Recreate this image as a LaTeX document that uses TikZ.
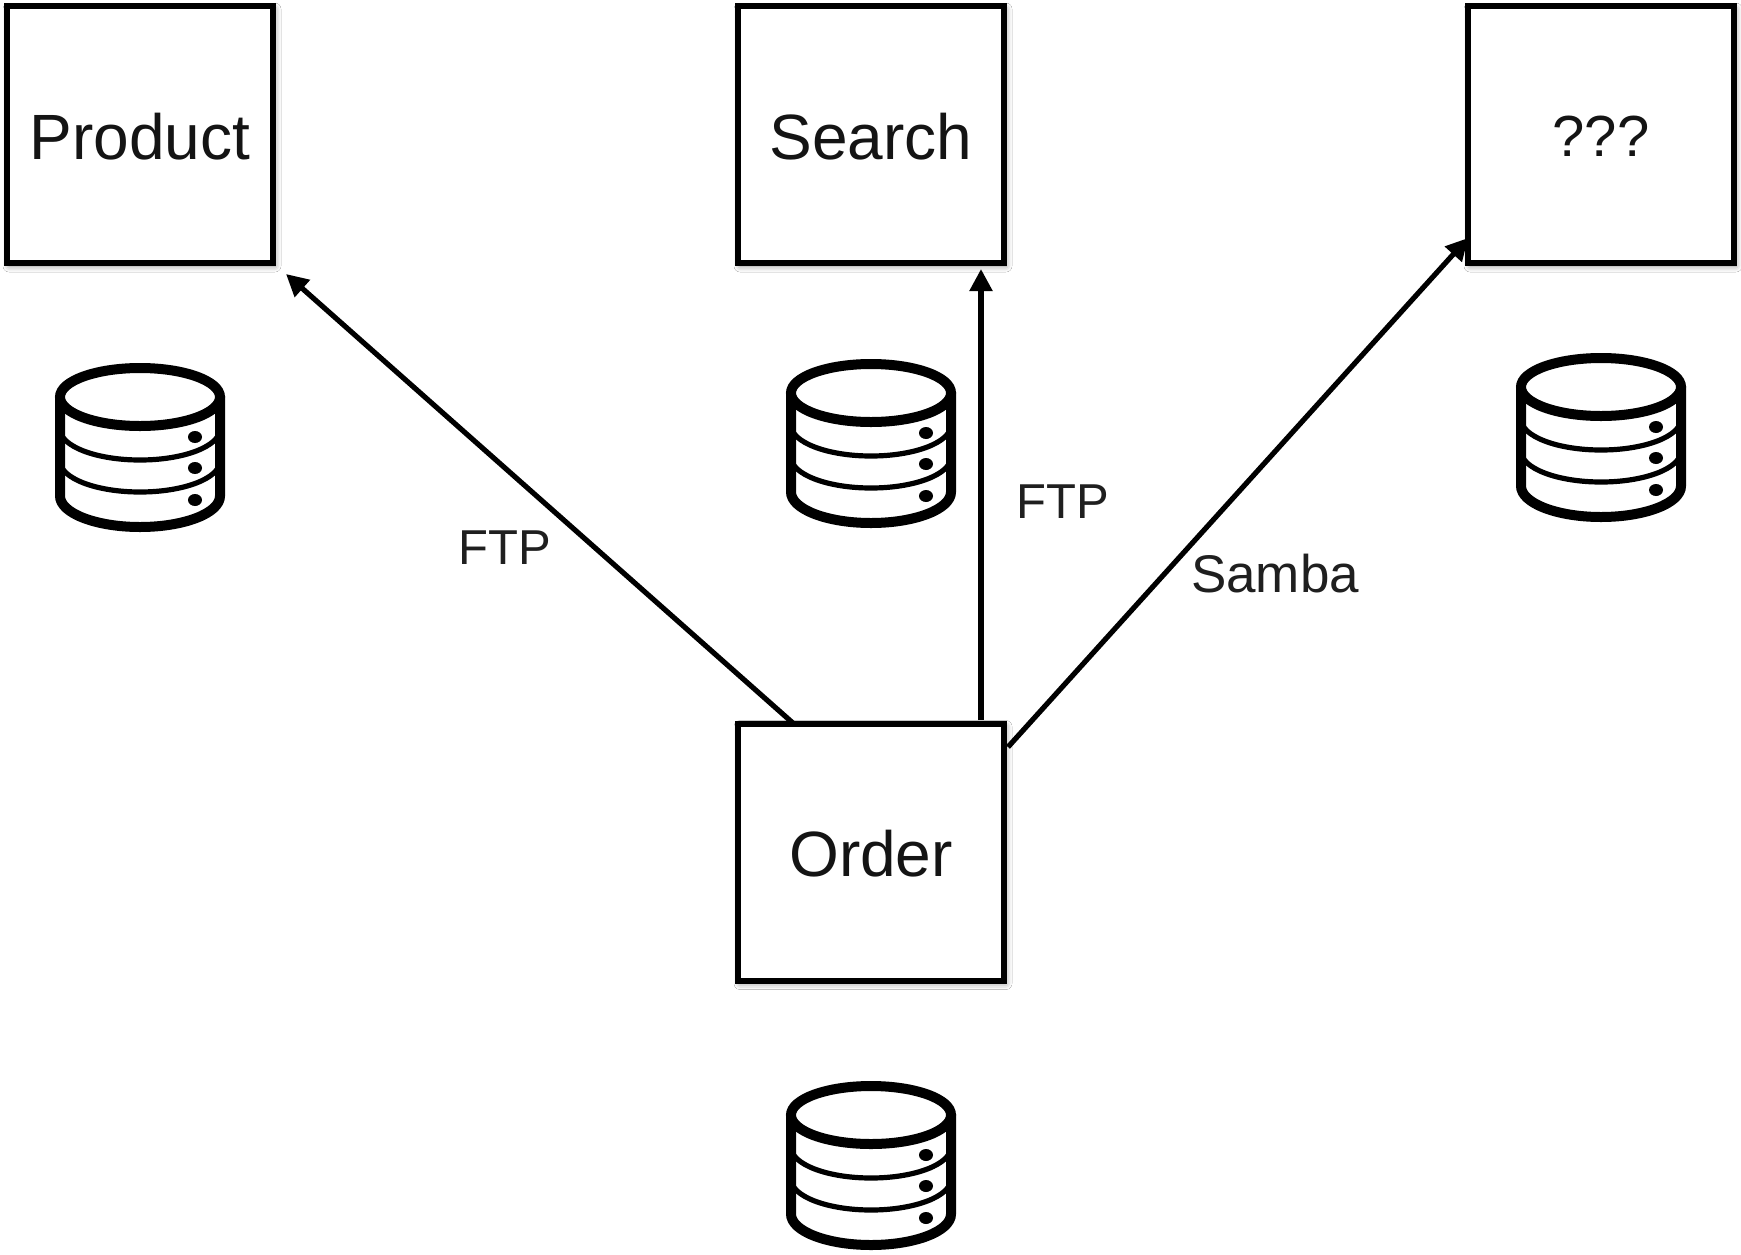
\documentclass[tikz,border=0pt]{standalone}
\usepackage{fontspec}
\setmainfont{Liberation Sans}
\usetikzlibrary{arrows.meta,shadows.blur}
\newcommand{\boxtext}[1]{\raisebox{-1pt}[\height][\depth]{#1}}
\tikzset{
  x=0.5pt,y=-0.5pt,
  svcbox/.style={draw=black,line width=3pt,fill=white,minimum width=133pt,minimum height=128.5pt,inner sep=0pt,
    blur shadow={shadow xshift=1pt,shadow yshift=-1.5pt,shadow blur radius=3pt,shadow opacity=45},
    font=\fontsize{32}{36}\selectfont,text=black!92},
  linklabel/.style={inner sep=0pt,font=\fontsize{24.5}{28}\selectfont,text=black!88},
  link/.style={line width=2.6pt,draw=black,-{Triangle[length=11pt,width=11pt]}},
  dbicon/.pic={
    \draw[line width=2.6pt] (-80,67) arc[start angle=180,end angle=0,x radius=80,y radius=31];
    \draw[line width=2.6pt] (-80,99) arc[start angle=180,end angle=0,x radius=80,y radius=31];
    \draw[line width=5pt] (-80,34) -- (-80,134) arc[start angle=180,end angle=0,x radius=80,y radius=31] -- (80,34);
    \draw[line width=5pt,fill=white] (0,35) ellipse[x radius=80,y radius=29];
    \fill (55,75) ellipse[x radius=7,y radius=6];
    \fill (55,106) ellipse[x radius=7,y radius=6];
    \fill (55,138) ellipse[x radius=7,y radius=6];
  }
}
\begin{document}
\begin{tikzpicture}
\useasboundingbox (0,0) rectangle (1741,1254);
\fill[white] (0,0) rectangle (1741,1254);
\node[svcbox] (product) at (140,134.5) {\boxtext{Product}};
\node[svcbox] (search) at (871,134.5) {\boxtext{Search}};
\node[svcbox] (unknown) at (1601,134.5) {\boxtext{\fontsize{29}{36}\selectfont ???}};
\node[svcbox] (order) at (871,852) {\boxtext{Order}};
\pic at (140,362) {dbicon};
\pic at (871,358) {dbicon};
\pic at (1601,352) {dbicon};
\pic at (871,1080) {dbicon};
\coordinate (fromA) at (794,724);
\coordinate (fromB) at (981,720);
\coordinate (fromC) at (1008,747);
\coordinate (toA) at (286,274);
\coordinate (toB) at (981,269);
\coordinate (toC) at (1468,238);
\draw[link] (fromA) -- (toA);
\draw[link] (fromB) -- (toB);
\draw[link] (fromC) -- (toC);
\node[linklabel] (ftpa) at (505,548) {FTP};
\node[linklabel] (ftpb) at (1063,502) {FTP};
\node[linklabel,font=\fontsize{26.5}{30}\selectfont] (samba) at (1275,574) {Samba};
\end{tikzpicture}
\end{document}
